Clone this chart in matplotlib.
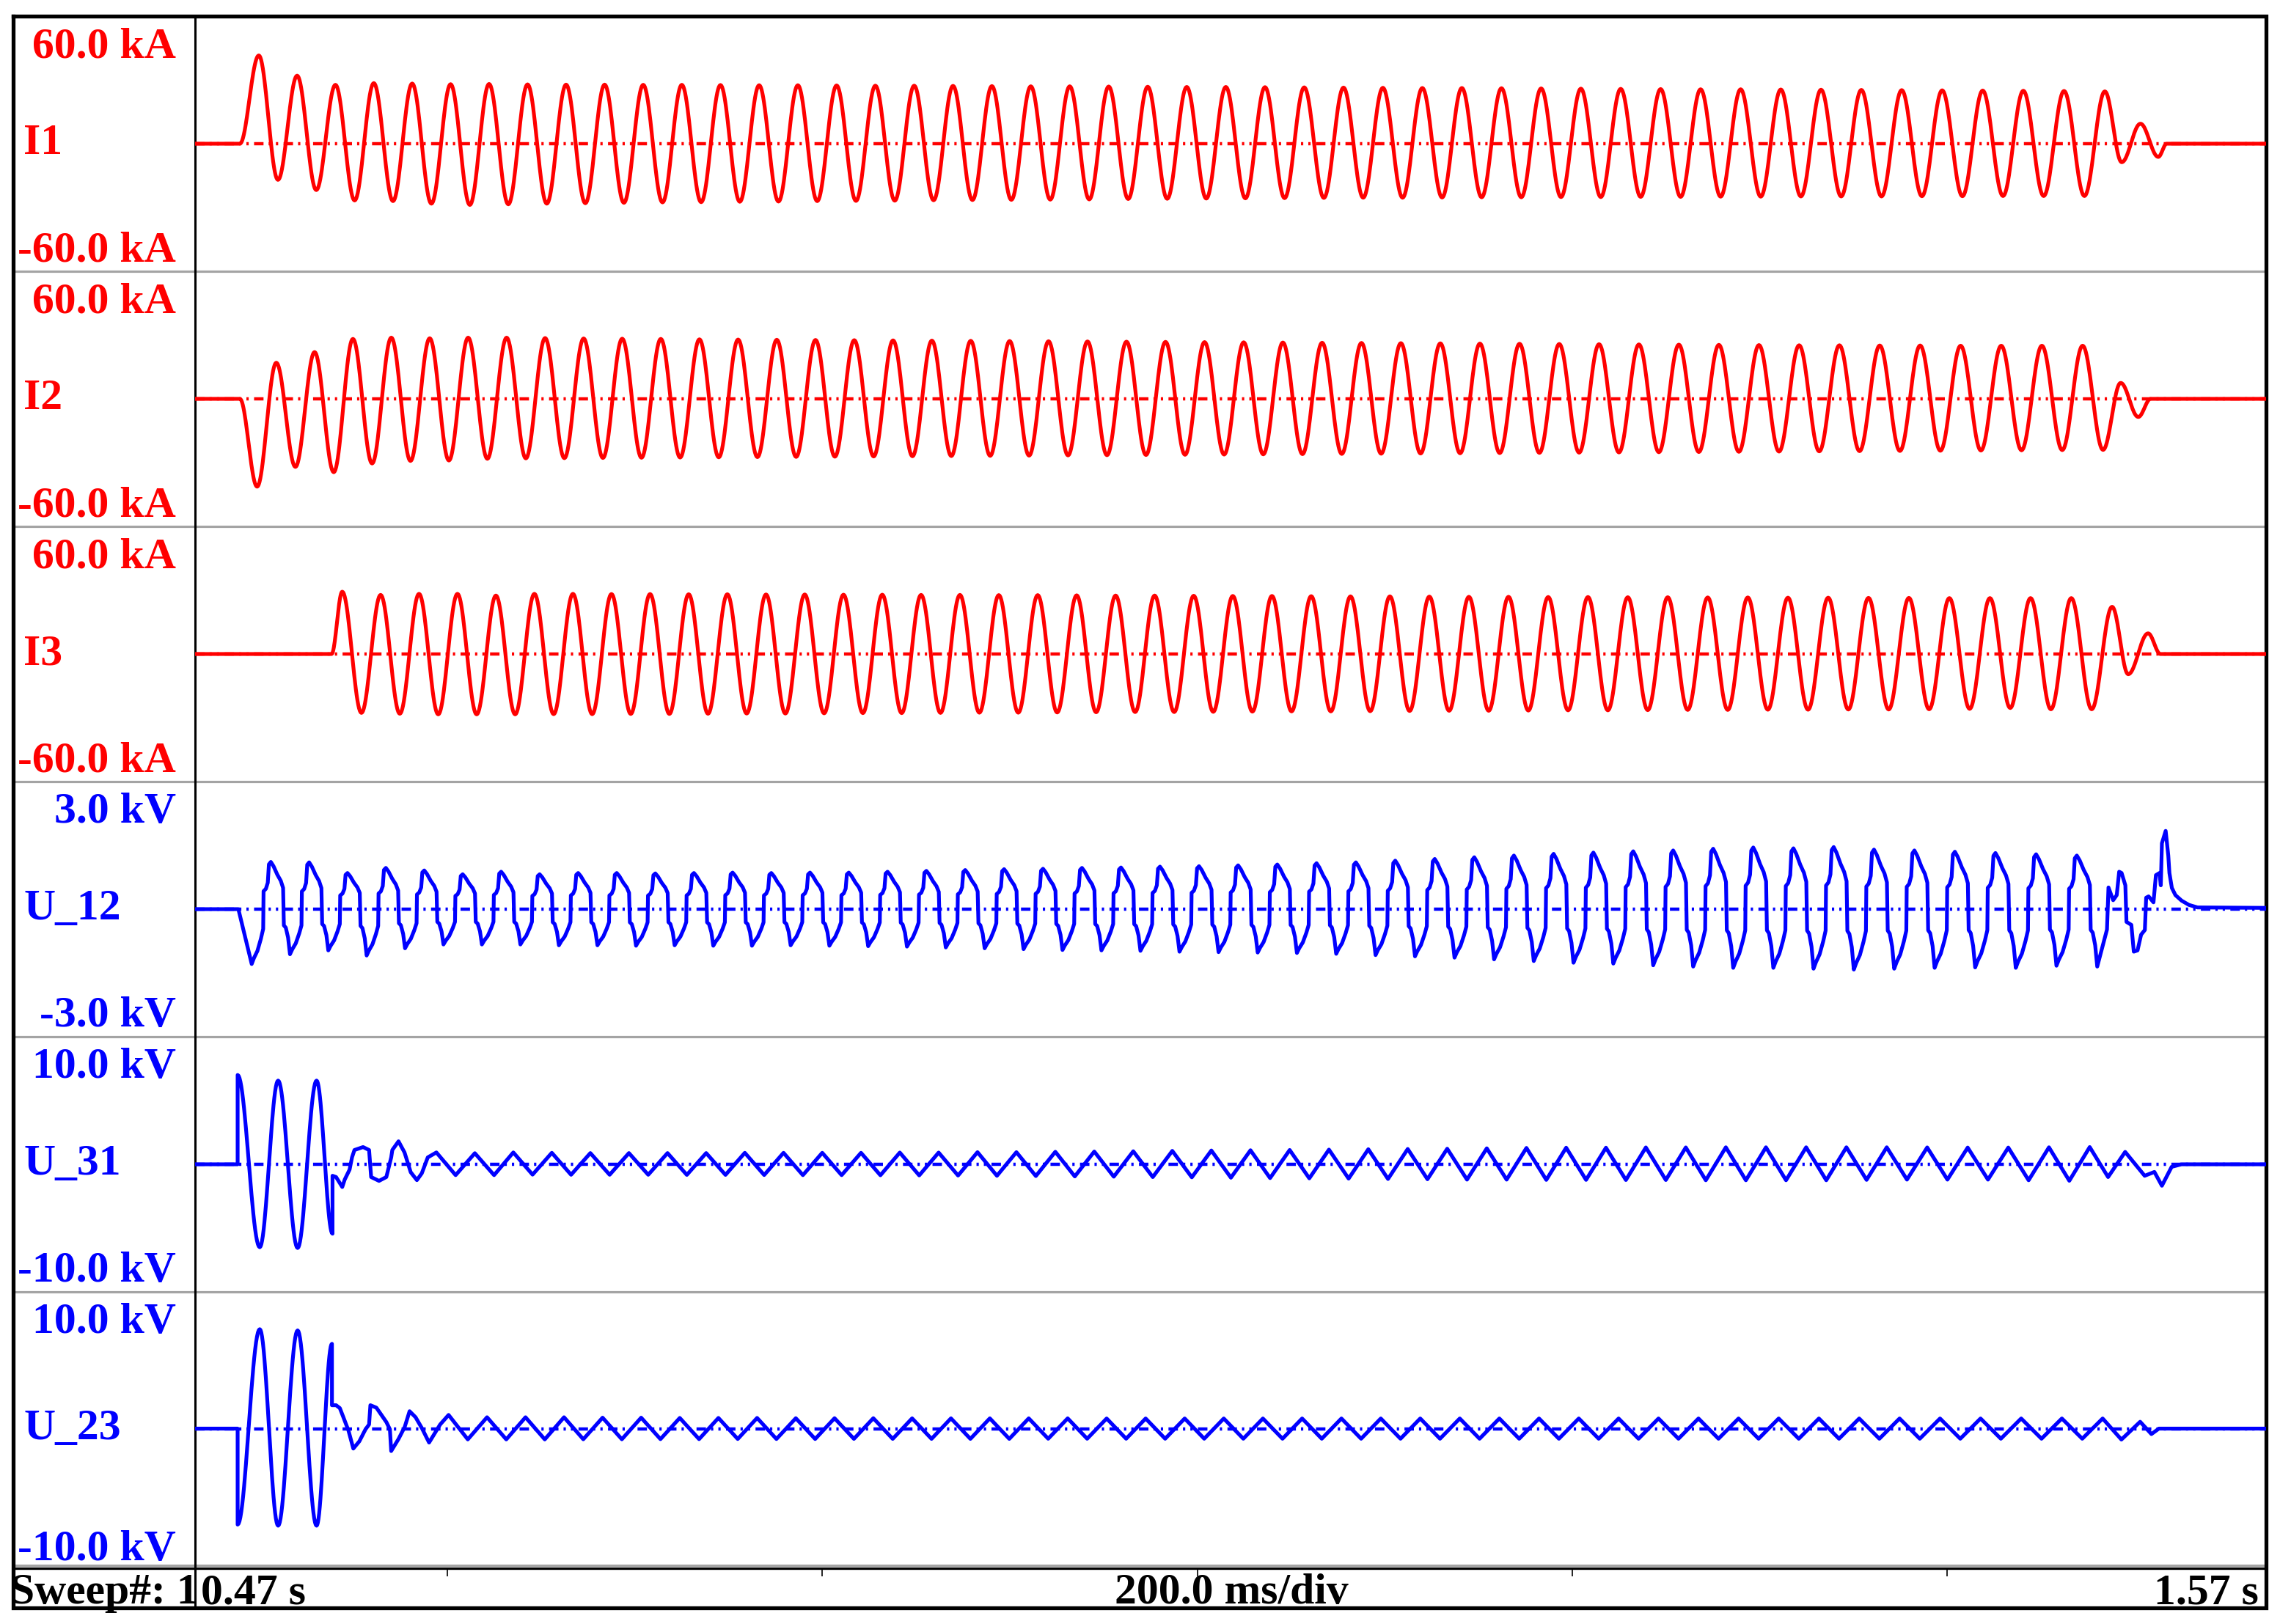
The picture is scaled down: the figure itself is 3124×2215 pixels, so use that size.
import numpy as np
import matplotlib.pyplot as plt

W, H = 3124, 2215
T_LEFT, T_RIGHT = 0.4655, 1.570

# generator frequency (Hz), read from the spacing of the current peaks
freq_t = [0.49, 1.00, 1.49]
freq_hz = [49.0, 48.0, 45.9]

# ---- I1 [kA] ----
i1_start, i1_first = 0.4894, 0.4995
i1_peaks = [41.5, 32.0, 27.7, 28.5, 28.3, 28.0, 28.1, 27.9, 27.8, 27.8,
            27.7, 27.7, 27.6, 27.5, 27.5, 27.4, 27.3, 27.3, 27.2, 27.1,
            27.0, 27.0, 26.9, 26.8, 26.7, 26.7, 26.6, 26.5, 26.4, 26.3,
            26.2, 26.2, 26.1, 26.0, 25.9, 25.8, 25.7, 25.6, 25.6, 25.5,
            25.4, 25.3, 25.2, 25.1, 25.0, 24.9, 24.8, 24.6]
i1_troughs = [-17.0, -21.8, -26.7, -27.0, -28.2, -28.8, -28.5, -28.2, -28.0, -27.8,
              -27.6, -27.5, -27.3, -27.2, -27.0, -26.9, -26.8, -26.6, -26.5, -26.4,
              -26.3, -26.2, -26.0, -25.9, -25.8, -25.7, -25.6, -25.5, -25.4, -25.4,
              -25.3, -25.2, -25.2, -25.1, -25.1, -25.0, -25.0, -24.9, -24.9, -24.8,
              -24.8, -24.8, -24.7, -24.7, -24.6, -24.6, -24.6]
i1_tail_dt = [0.0090, 0.0190, 0.0285, 0.0330]
i1_tail_v = [-8.7, 9.4, -6.2, 0.0]

# ---- I2 [kA] ----
i2_start, i2_first = 0.4894, 0.4986
i2_troughs = [-41.3, -32.0, -34.5, -30.4, -29.2, -29.0, -28.2, -28.0, -27.9, -27.8,
              -27.7, -27.6, -27.5, -27.4, -27.3, -27.2, -27.1, -27.0, -26.9, -26.8,
              -26.7, -26.6, -26.5, -26.4, -26.3, -26.2, -26.1, -26.0, -25.9, -25.8,
              -25.7, -25.6, -25.5, -25.4, -25.3, -25.2, -25.1, -25.0, -24.9, -24.8,
              -24.7, -24.6, -24.5, -24.4, -24.3, -24.2, -24.1, -24.0]
i2_peaks = [17.0, 22.0, 28.2, 28.8, 28.5, 28.8, 28.8, 28.6, 28.4, 28.3,
            28.2, 28.0, 27.9, 27.8, 27.7, 27.6, 27.5, 27.4, 27.3, 27.2,
            27.1, 27.0, 26.9, 26.8, 26.7, 26.6, 26.5, 26.4, 26.3, 26.2,
            26.1, 26.0, 25.9, 25.8, 25.7, 25.6, 25.5, 25.4, 25.3, 25.2,
            25.2, 25.1, 25.1, 25.0, 25.0, 25.0, 25.0]
i2_tail_dt = [0.0094, 0.0188, 0.0254]
i2_tail_v = [7.5, -8.5, 0.0]

# ---- I3 [kA] ----
i3_start, i3_first = 0.5383, 0.5440
i3_peaks = [29.3, 27.8, 28.3, 28.3, 27.5, 28.3, 28.3, 28.2, 28.2, 28.1,
            28.1, 28.0, 28.0, 27.9, 27.9, 27.8, 27.8, 27.7, 27.7, 27.6,
            27.5, 27.5, 27.4, 27.3, 27.3, 27.2, 27.1, 27.1, 27.0, 26.9,
            26.9, 26.8, 26.8, 26.7, 26.7, 26.6, 26.6, 26.5, 26.5, 26.4,
            26.4, 26.3, 26.3, 26.3, 26.3, 22.2]
i3_troughs = [-27.7, -28.1, -28.4, -28.4, -28.4, -28.3, -28.3, -28.2, -28.2, -28.1,
              -28.0, -28.0, -27.9, -27.8, -27.8, -27.7, -27.6, -27.6, -27.5, -27.4,
              -27.3, -27.3, -27.2, -27.1, -27.0, -27.0, -26.9, -26.8, -26.7, -26.7,
              -26.6, -26.5, -26.5, -26.4, -26.3, -26.3, -26.2, -26.2, -26.1, -26.1,
              -26.0, -25.8, -25.4, -26.0, -26.0]
i3_tail_dt = [0.0086, 0.0192, 0.0258]
i3_tail_v = [-9.5, 9.7, 0.0]

# ---- U_12 [kV] (arc voltage, one cycle shape from trough to trough) ----
u12_start, u12_first = 0.4886, 0.4957
u12_shape_ph = [0.00, 0.06, 0.15, 0.24, 0.30, 0.31, 0.37, 0.42, 0.45, 0.50,
                0.57, 0.67, 0.76, 0.82, 0.84, 0.89, 0.95]
u12_shape_v = [-1.00, -0.89, -0.76, -0.54, -0.36, 0.38, 0.43, 0.56, 0.95, 1.00,
               0.91, 0.73, 0.60, 0.45, -0.36, -0.41, -0.63]
u12_troughs = [-1.29, -1.06, -0.97, -1.09, -0.92, -0.83, -0.83, -0.83, -0.85, -0.85,
               -0.86, -0.85, -0.86, -0.86, -0.85, -0.86, -0.87, -0.88, -0.90, -0.92,
               -0.94, -0.96, -0.97, -0.98, -1.00, -1.01, -1.02, -1.03, -1.05, -1.08,
               -1.11, -1.14, -1.18, -1.22, -1.26, -1.28, -1.32, -1.35, -1.38, -1.38,
               -1.40, -1.42, -1.40, -1.38, -1.37, -1.38, -1.33, -1.35]
u12_peaks = [1.11, 1.10, 0.85, 0.97, 0.91, 0.82, 0.88, 0.82, 0.85, 0.85,
             0.84, 0.85, 0.86, 0.85, 0.86, 0.86, 0.88, 0.90, 0.92, 0.94,
             0.95, 0.97, 0.98, 1.00, 1.01, 1.03, 1.05, 1.08, 1.10, 1.14,
             1.18, 1.22, 1.26, 1.30, 1.33, 1.36, 1.38, 1.42, 1.45, 1.43,
             1.46, 1.40, 1.38, 1.35, 1.32, 1.29, 1.26]
u12_tail_dt = [0.0052, 0.0060, 0.0085, 0.0104, 0.0117, 0.0130, 0.0150, 0.0156,
               0.0182, 0.0195, 0.0215, 0.0234, 0.0254, 0.0261, 0.0274, 0.0300,
               0.0313, 0.0332, 0.0339, 0.0345, 0.0365, 0.0379, 0.0385, 0.0398,
               0.0417, 0.0450, 0.0489, 0.0535]
u12_tail_v = [-0.48, 0.51, 0.21, 0.33, 0.88, 0.85, 0.56, -0.30,
              -0.37, -1.00, -0.97, -0.60, -0.49, 0.27, 0.30, 0.16,
              0.80, 0.85, 0.56, 1.55, 1.84, 1.26, 0.85, 0.50,
              0.33, 0.20, 0.10, 0.04]
u12_rest = 0.03

# ---- U_31 [kV] ----
u31_osc_t = [0.4882, 0.5000, 0.5098, 0.5202, 0.5303, 0.5388]   # first cycles, sine-like
u31_osc_v = [7.0, -6.5, 6.56, -6.56, 6.56, -5.44]
u31_tr_t = [0.5388, 0.5407, 0.5440, 0.5453, 0.5479, 0.5492, 0.5505, 0.5551, 0.5583,
            0.5594, 0.5636, 0.5675, 0.5701, 0.5707, 0.5740, 0.5772, 0.5805, 0.5838,
            0.5864, 0.5896]
u31_tr_v = [-0.90, -1.00, -1.78, -1.20, -0.42, 0.54, 1.12, 1.35, 1.12,
            -1.00, -1.30, -1.00, 0.54, 1.12, 1.80, 0.93, -0.62, -1.24,
            -0.71, 0.54]
u31_first = 0.5942
u31_peaks = [0.93, 0.87, 0.93, 0.90, 0.88, 0.88, 0.88, 0.88, 0.90, 0.90,
             0.90, 0.90, 0.92, 0.92, 0.95, 0.95, 0.98, 1.00, 1.02, 1.05,
             1.08, 1.10, 1.12, 1.15, 1.18, 1.20, 1.22, 1.25, 1.28, 1.30,
             1.30, 1.32, 1.32, 1.33, 1.33, 1.33, 1.33, 1.33, 1.32, 1.31,
             1.31, 1.33, 1.35]
u31_troughs = [-0.85, -0.85, -0.81, -0.82, -0.82, -0.82, -0.83, -0.83, -0.84, -0.85,
               -0.85, -0.86, -0.87, -0.88, -0.90, -0.92, -0.95, -0.97, -1.00, -1.02,
               -1.05, -1.08, -1.10, -1.12, -1.15, -1.17, -1.20, -1.20, -1.22, -1.22,
               -1.23, -1.23, -1.25, -1.25, -1.25, -1.25, -1.22, -1.20, -1.20, -1.20,
               -1.25, -1.29]
u31_tail_dt = [0.0098, 0.0189, 0.0293, 0.0345, 0.0385, 0.0437, 0.0489]
u31_tail_v = [-1.00, 0.97, -0.90, -0.60, -1.68, -0.20, 0.0]

# ---- U_23 [kV] ----
u23_osc_t = [0.4882, 0.5000, 0.5098, 0.5202, 0.5303, 0.5385]
u23_osc_v = [-7.02, 7.27, -7.10, 7.18, -7.10, 6.20]
u23_tr_t = [0.5385, 0.5407, 0.5427, 0.5446, 0.5473, 0.5499, 0.5531, 0.5564, 0.5583,
            0.5590, 0.5622, 0.5649, 0.5675, 0.5694, 0.5701, 0.5740, 0.5773, 0.5799,
            0.5831, 0.5864, 0.5903, 0.5962]
u23_tr_v = [1.71, 1.71, 1.50, 0.83, -0.14, -1.46, -0.93, -0.05, 0.30,
            1.71, 1.53, 1.00, 0.48, -0.05, -1.64, -0.76, 0.12, 1.27,
            0.83, 0.05, -1.02, 0.30]
u23_first = 0.6007
u23_peaks = [1.00, 0.83, 0.83, 0.83, 0.80, 0.80, 0.78, 0.78, 0.78, 0.76,
             0.76, 0.76, 0.75, 0.75, 0.75, 0.75, 0.75, 0.74, 0.74, 0.74,
             0.74, 0.74, 0.74, 0.74, 0.74, 0.74, 0.74, 0.74, 0.74, 0.74,
             0.74, 0.74, 0.74, 0.74, 0.74, 0.74, 0.74, 0.74, 0.74, 0.74,
             0.74, 0.74, 0.74]
u23_troughs = [-0.79, -0.79, -0.79, -0.78, -0.78, -0.77, -0.77, -0.76, -0.76, -0.76,
               -0.75, -0.75, -0.75, -0.75, -0.75, -0.74, -0.74, -0.74, -0.74, -0.74,
               -0.74, -0.74, -0.74, -0.74, -0.74, -0.74, -0.74, -0.74, -0.74, -0.74,
               -0.74, -0.74, -0.74, -0.74, -0.74, -0.74, -0.74, -0.74, -0.74, -0.74,
               -0.74, -0.74]
u23_tail_dt = [0.0100, 0.0200, 0.0260, 0.0300]
u23_tail_v = [-0.80, 0.50, -0.40, 0.0]

panel_names = ["I1", "I2", "I3", "U_12", "U_31", "U_23"]
panel_top_lbl = ["60.0 kA", "60.0 kA", "60.0 kA", "3.0 kV", "10.0 kV", "10.0 kV"]
panel_bot_lbl = ["-60.0 kA", "-60.0 kA", "-60.0 kA", "-3.0 kV", "-10.0 kV", "-10.0 kV"]
panel_lim = [60.0, 60.0, 60.0, 3.0, 10.0, 10.0]
tick_times = [0.6, 0.8, 1.0, 1.2, 1.4]

RED, BLUE = "#ff0000", "#0000ff"
FONT = dict(family="Liberation Serif", weight="bold", size=43)

# running phase of the generator (cycles)
tt = np.linspace(0.40, 1.60, 48001)
ff = np.interp(tt, freq_t, freq_hz)
ph = np.concatenate([[0.0], np.cumsum(0.5 * (ff[1:] + ff[:-1]) * np.diff(tt))])


def grid_times(t0, n, step=0.5):
    p0 = np.interp(t0, tt, ph)
    return np.interp(p0 + step * np.arange(n), ph, tt)


def alternate(a, b):
    out = []
    for i in range(len(a)):
        out.append(a[i])
        if i < len(b):
            out.append(b[i])
    return out


def cos_path(kt, kv, n=24):
    xs, ys = [kt[0]], [kv[0]]
    for i in range(len(kt) - 1):
        if kt[i + 1] == kt[i]:
            xs.append(kt[i + 1])
            ys.append(kv[i + 1])
            continue
        s = np.linspace(0, 1, n + 1)[1:]
        w = 0.5 - 0.5 * np.cos(np.pi * s)
        xs.extend(kt[i] + (kt[i + 1] - kt[i]) * s)
        ys.extend(kv[i] + (kv[i + 1] - kv[i]) * w)
    return np.array(xs), np.array(ys)


def current_trace(start, first, ext, tail_dt, tail_v):
    te = grid_times(first, len(ext))
    kt = [T_LEFT, start] + list(te) + [te[-1] + d for d in tail_dt] + [T_RIGHT]
    kv = [0.0, 0.0] + list(ext) + list(tail_v) + [0.0]
    return cos_path(kt, kv)


def u12_trace():
    tr_t = grid_times(u12_first, len(u12_troughs), step=1.0)
    p0 = np.interp(u12_first, tt, ph)
    xs, ys = [T_LEFT, u12_start], [0.0, 0.0]
    for c in range(len(u12_peaks)):
        for f, v in zip(u12_shape_ph, u12_shape_v):
            t = np.interp(p0 + c + f, ph, tt)
            if v > 0:
                a = u12_peaks[c]
            elif f < 0.5:
                a = -u12_troughs[c]
            else:
                a = -u12_troughs[c + 1]
            xs.append(t)
            ys.append(v * a)
    xs.append(tr_t[-1])
    ys.append(u12_troughs[-1])
    xs += [tr_t[-1] + d for d in u12_tail_dt] + [T_RIGHT]
    ys += list(u12_tail_v) + [u12_rest]
    return np.array(xs), np.array(ys)


def voltage_trace(osc_t, osc_v, tr_t, tr_v, first, peaks, troughs, tail_dt, tail_v):
    # step at the fault, a few damped cycles, then the arc part
    x1, y1 = cos_path([T_LEFT, osc_t[0]] + list(osc_t), [0.0, 0.0] + list(osc_v))
    ext = alternate(peaks, troughs)
    te = grid_times(first, len(ext))
    x2 = list(tr_t) + list(te) + [te[-1] + d for d in tail_dt] + [T_RIGHT]
    y2 = list(tr_v) + list(ext) + list(tail_v) + [0.0]
    return np.concatenate([x1, x2]), np.concatenate([y1, y2])


traces = [
    (current_trace(i1_start, i1_first, alternate(i1_peaks, i1_troughs), i1_tail_dt, i1_tail_v), RED),
    (current_trace(i2_start, i2_first, alternate(i2_troughs, i2_peaks), i2_tail_dt, i2_tail_v), RED),
    (current_trace(i3_start, i3_first, alternate(i3_peaks, i3_troughs), i3_tail_dt, i3_tail_v), RED),
    (u12_trace(), BLUE),
    (voltage_trace(u31_osc_t, u31_osc_v, u31_tr_t, u31_tr_v, u31_first,
                   u31_peaks, u31_troughs, u31_tail_dt, u31_tail_v), BLUE),
    (voltage_trace(u23_osc_t, u23_osc_v, u23_tr_t, u23_tr_v, u23_first,
                   u23_peaks, u23_troughs, u23_tail_dt, u23_tail_v), BLUE),
]

# layout in pixels
X_FRAME_L, X_FRAME_R = 18, 3090
Y_FRAME_T, Y_FRAME_B = 22, 2193
X_SEP = 266
panel_edges = [22, 370, 718, 1066, 1414, 1762, 2135]
Y_STRIP = 2139

fig = plt.figure(figsize=(W / 100, H / 100), dpi=100)
bg = fig.add_axes([0, 0, 1, 1])
bg.set_xlim(0, W)
bg.set_ylim(H, 0)
bg.axis("off")

GRAY = "#a4a4a4"
for y in panel_edges[1:]:
    bg.plot([X_FRAME_L, X_FRAME_R], [y, y], color=GRAY, lw=2.3, solid_capstyle="butt")
bg.plot([X_FRAME_L, X_FRAME_R], [Y_STRIP, Y_STRIP], color="black", lw=2.4, solid_capstyle="butt")
bg.plot([X_FRAME_L, X_FRAME_R, X_FRAME_R, X_FRAME_L, X_FRAME_L],
        [Y_FRAME_T, Y_FRAME_T, Y_FRAME_B, Y_FRAME_B, Y_FRAME_T],
        color="black", lw=3.8, solid_joinstyle="miter")

ZERO_LS = (0, (2.9, 1.55, 0.7, 1.55, 0.7, 1.65))

for k in range(6):
    top, bot = panel_edges[k], panel_edges[k + 1]
    color = traces[k][1]
    ax = fig.add_axes([X_SEP / W, 1 - bot / H, (X_FRAME_R - X_SEP) / W, (bot - top) / H])
    ax.patch.set_visible(False)
    ax.set_xlim(T_LEFT, T_RIGHT)
    ax.set_ylim(-panel_lim[k], panel_lim[k])
    ax.axis("off")
    ax.axhline(0, color=color, lw=3.2, ls=ZERO_LS, zorder=1)
    x, y = traces[k][0]
    ax.plot(x, y, color=color, lw=3.7, zorder=2, solid_joinstyle="round")

    mid = (top + bot) / 2
    bot_off = 7 if k == 5 else 14
    bg.text(240, top + 56, panel_top_lbl[k], color=color, ha="right", va="baseline", **FONT)
    bg.text(240, bot - bot_off, panel_bot_lbl[k], color=color, ha="right", va="baseline", **FONT)
    bg.text(32, mid, panel_names[k], color=color, ha="left", va="center", **FONT)

# time strip
strip = fig.add_axes([X_SEP / W, 1 - Y_FRAME_B / H, (X_FRAME_R - X_SEP) / W, (Y_FRAME_B - Y_STRIP) / H])
strip.patch.set_visible(False)
strip.set_xlim(T_LEFT, T_RIGHT)
strip.set_ylim(0, 1)
strip.axis("off")
strip.vlines(tick_times, 0.8, 1.0, color="black", lw=1.2)

bg.text(14, 2187, "Sweep#: 1", color="black", ha="left", va="baseline", **FONT)
bg.text(274, 2187, "0.47 s", color="black", ha="left", va="baseline", **FONT)
bg.text(1679, 2187, "200.0 ms/div", color="black", ha="center", va="baseline", **FONT)
bg.text(3080, 2187, "1.57 s", color="black", ha="right", va="baseline", **FONT)

# the separator is drawn last so it stays visible in the bottom strip
bg.plot([X_SEP, X_SEP], [Y_FRAME_T, Y_FRAME_B], color="black", lw=2.2,
        solid_capstyle="butt", zorder=5)

fig.savefig("out.png", dpi=100)
